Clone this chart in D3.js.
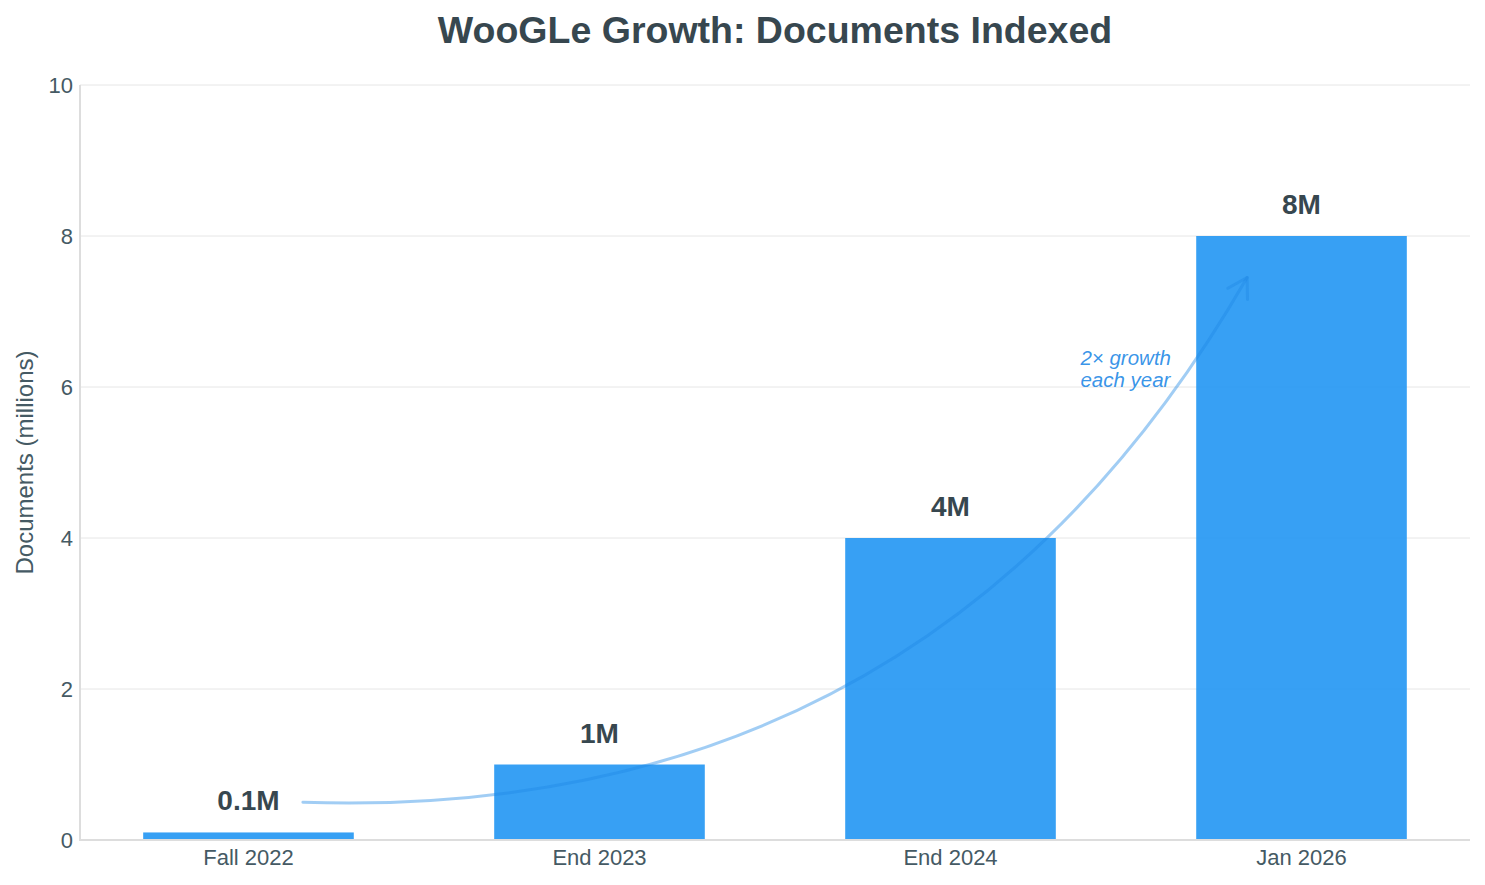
<!DOCTYPE html>
<html>
<head>
<meta charset="utf-8">
<script src="https://cdn.jsdelivr.net/npm/d3@7"></script>
<style>
  html, body { margin: 0; padding: 0; background: #ffffff; }
  svg { display: block; font-family: "Liberation Sans", Arial, sans-serif; }
</style>
</head>
<body>
<svg id="chart" width="1485" height="885"></svg>
<script>
// ---- data ----
const categories = ["Fall 2022", "End 2023", "End 2024", "Jan 2026"];
const documents = [0.1, 1, 4, 8];            // millions
const valueLabels = ["0.1M", "1M", "4M", "8M"];
const yTicks = [0, 2, 4, 6, 8, 10];
const titleText = "WooGLe Growth: Documents Indexed";
const yAxisTitle = "Documents (millions)";
const noteLines = ["2× growth", "each year"];
// annotation arrow in data space: [category index, value]
const arrowFrom = [0.155, 0.5];
const arrowTo = [2.845, 7.45];
const noteAnchor = [2.37, 6.29];   // [category index, value] for note text start

// ---- layout ----
const W = 1485, H = 885;
const M = { left: 80, right: 15, top: 85, bottom: 45 };
const svg = d3.select("#chart");

const x = d3.scaleBand()
  .domain(categories)
  .range([M.left, W - M.right])
  .paddingInner(0.4)
  .paddingOuter(0.18);
const y = d3.scaleLinear().domain([0, 10]).range([H - M.bottom, M.top]);

// continuous index -> pixel
const step = x.step();
const xi = i => x(categories[0]) + x.bandwidth() / 2 + i * step;

const textColor = "#37474f";
const tickColor = "#455a64";

// gridlines
svg.append("g")
  .selectAll("line")
  .data(yTicks.filter(d => d > 0))
  .join("line")
  .attr("x1", M.left).attr("x2", W - M.right)
  .attr("y1", d => y(d)).attr("y2", d => y(d))
  .attr("stroke", "#e6e6e6").attr("stroke-width", 1);

// bars
svg.append("g")
  .selectAll("rect")
  .data(documents)
  .join("rect")
  .attr("x", (d, i) => x(categories[i]))
  .attr("width", x.bandwidth())
  .attr("y", d => y(d))
  .attr("height", d => y(0) - y(d))
  .attr("fill", "#2196f3")
  .attr("fill-opacity", 0.9);

// axes lines
svg.append("line")
  .attr("x1", M.left).attr("x2", M.left)
  .attr("y1", y(10)).attr("y2", y(0) + 1)
  .attr("stroke", "#dddddd").attr("stroke-width", 2);
svg.append("line")
  .attr("x1", M.left - 1).attr("x2", W - M.right)
  .attr("y1", y(0)).attr("y2", y(0))
  .attr("stroke", "#dddddd").attr("stroke-width", 2);

// y axis via d3 axis
const yAxis = d3.axisLeft(y).tickValues(yTicks).tickSize(0).tickPadding(7);
const gy = svg.append("g").attr("transform", `translate(${M.left},0)`).call(yAxis);
gy.select(".domain").remove();
gy.selectAll("text")
  .attr("font-size", 22)
  .attr("fill", tickColor)
  .attr("font-family", "Liberation Sans, Arial, sans-serif");

// x axis
const xAxis = d3.axisBottom(x).tickSize(0).tickPadding(9);
const gx = svg.append("g").attr("transform", `translate(0,${y(0)})`).call(xAxis);
gx.select(".domain").remove();
gx.selectAll("text")
  .attr("font-size", 22)
  .attr("fill", tickColor)
  .attr("font-family", "Liberation Sans, Arial, sans-serif");

// value labels
svg.append("g")
  .selectAll("text")
  .data(documents)
  .join("text")
  .attr("x", (d, i) => x(categories[i]) + x.bandwidth() / 2)
  .attr("y", d => y(d) - 22)
  .attr("text-anchor", "middle")
  .attr("font-size", 28)
  .attr("font-weight", "bold")
  .attr("fill", textColor)
  .text((d, i) => valueLabels[i]);

// title
svg.append("text")
  .attr("x", (M.left + W - M.right) / 2)
  .attr("y", 43)
  .attr("text-anchor", "middle")
  .attr("font-size", 37.5)
  .attr("font-weight", "bold")
  .attr("fill", textColor)
  .text(titleText);

// y axis title
svg.append("text")
  .attr("transform", `translate(33,${(y(0) + y(10)) / 2}) rotate(-90)`)
  .attr("text-anchor", "middle")
  .attr("font-size", 24)
  .attr("fill", tickColor)
  .text(yAxisTitle);

// growth arc (quadratic curve, arc3-like)
const p0 = [xi(arrowFrom[0]), y(arrowFrom[1])];
const p2 = [xi(arrowTo[0]), y(arrowTo[1])];
const rad = 0.3;
const mid = [(p0[0] + p2[0]) / 2, (p0[1] + p2[1]) / 2];
const dx = p2[0] - p0[0], dy = p2[1] - p0[1];
const c = [mid[0] - rad * dy, mid[1] + rad * dx];
const arc = d3.path();
arc.moveTo(p0[0], p0[1]);
arc.quadraticCurveTo(c[0], c[1], p2[0], p2[1]);
const arrowG = svg.append("g");
arrowG.append("path")
  .attr("d", arc.toString())
  .attr("fill", "none")
  .attr("stroke", "#1e88e5")
  .attr("stroke-opacity", 0.42)
  .attr("stroke-width", 3)
  .attr("stroke-linecap", "round");
// arrowhead (open)
const bx = c[0] - p2[0], by = c[1] - p2[1];
const ang = Math.atan2(by, bx);
const hl = 22, ha = 31 * Math.PI / 180;
const a1 = [p2[0] + hl * Math.cos(ang + ha), p2[1] + hl * Math.sin(ang + ha)];
const a2 = [p2[0] + hl * Math.cos(ang - ha), p2[1] + hl * Math.sin(ang - ha)];
const head = d3.path();
head.moveTo(a1[0], a1[1]);
head.lineTo(p2[0], p2[1]);
head.lineTo(a2[0], a2[1]);
arrowG.append("path")
  .attr("d", head.toString())
  .attr("fill", "none")
  .attr("stroke", "#1e88e5")
  .attr("stroke-opacity", 0.42)
  .attr("stroke-width", 3)
  .attr("stroke-linecap", "round")
  .attr("stroke-linejoin", "round");

// note text
const note = svg.append("text")
  .attr("x", xi(noteAnchor[0]))
  .attr("y", y(noteAnchor[1]))
  .attr("font-size", 20.5)
  .attr("font-style", "italic")
  .attr("fill", "#1e88e5")
  .attr("fill-opacity", 0.9);
note.selectAll("tspan")
  .data(noteLines)
  .join("tspan")
  .attr("x", xi(noteAnchor[0]))
  .attr("dy", (d, i) => i === 0 ? 0 : 22)
  .text(d => d);
</script>
</body>
</html>
